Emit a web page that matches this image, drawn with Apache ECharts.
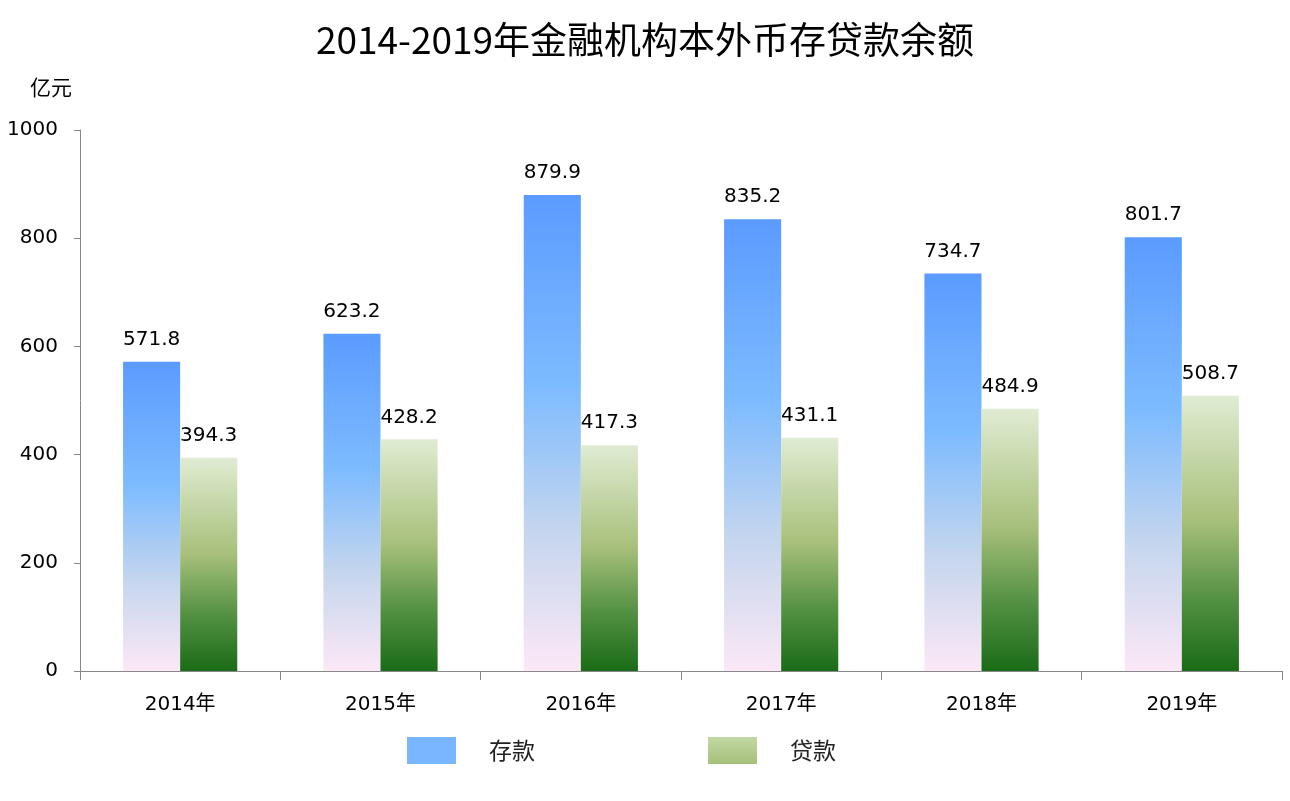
<!DOCTYPE html>
<html><head><meta charset="utf-8">
<script src="https://cdn.jsdelivr.net/npm/echarts@6/dist/echarts.min.js"></script>
<style>html,body{margin:0;padding:0;background:#fff}#c{width:1290px;height:801px}</style>
</head><body><div id="c"></div>
<script>
var categories = ['2014年','2015年','2016年','2017年','2018年','2019年'];
var deposits = [571.8, 623.2, 879.9, 835.2, 734.7, 801.7];
var loans = [394.3, 428.2, 417.3, 431.1, 484.9, 508.7];
var seriesNames = ['存款','贷款'];

var chart = echarts.init(document.getElementById('c'));
var font = '"DejaVu Sans", "Noto Sans CJK SC", sans-serif';
var depGrad = new echarts.graphic.LinearGradient(0,0,0,1,[
  {offset:0,color:'#5B9BFF'},{offset:0.4,color:'#7DBBFF'},{offset:0.7,color:'#C3D5EE'},{offset:1,color:'#FCE8F6'}]);
var loanGrad = new echarts.graphic.LinearGradient(0,0,0,1,[
  {offset:0,color:'#E0ECD3'},{offset:0.45,color:'#A8C07B'},{offset:0.75,color:'#508F40'},{offset:1,color:'#1A6B17'}]);
chart.setOption({
  animation:false,
  title:{text:'2014-2019年金融机构本外币存贷款余额',left:'center',top:16,
    textStyle:{fontSize:37,fontWeight:'normal',color:'#000',fontFamily:'"Noto Sans CJK SC", sans-serif'}},
  legend:{data:[{name:seriesNames[0],itemStyle:{color:'#79B6FF'}},{name:seriesNames[1],itemStyle:{color:new echarts.graphic.LinearGradient(0,0,0,1,[{offset:0,color:'#C3D7A4'},{offset:1,color:'#A5C07A'}])}}],
    left:402, top:732, itemWidth:49, itemHeight:27, itemGap:173, icon:'rect',
    textStyle:{fontSize:23,color:'#222',padding:[0,0,0,28],fontFamily:'"Noto Sans CJK SC", sans-serif'}},
  grid:{left:80,right:8,top:130,bottom:130},
  xAxis:{type:'category',data:categories,
    axisLine:{lineStyle:{color:'#888'}},
    axisTick:{show:true,length:9,lineStyle:{color:'#888'}},
    axisLabel:{fontSize:20,color:'#000',margin:24,fontFamily:font}},
  yAxis:{type:'value',min:0,max:1000,interval:200,name:'亿元',
    nameLocation:'end',nameGap:32,
    nameTextStyle:{fontSize:21,color:'#000',align:'right',padding:[0,8,0,0],fontFamily:'"Noto Sans CJK SC", sans-serif'},
    axisLine:{show:true,lineStyle:{color:'#888'}},
    axisTick:{show:true,length:6,lineStyle:{color:'#888'}},
    splitLine:{show:false},
    axisLabel:{fontSize:20,color:'#000',margin:22,fontFamily:font,formatter:function(v){return String(v);}}},
  series:[
    {name:seriesNames[0],type:'bar',data:deposits,barGap:'0%',barCategoryGap:'43%',
     itemStyle:{color:depGrad},
     label:{show:true,position:'top',distance:12,fontSize:20,color:'#000',fontFamily:font}},
    {name:seriesNames[1],type:'bar',data:loans,
     itemStyle:{color:loanGrad},
     label:{show:true,position:'top',distance:12,fontSize:20,color:'#000',fontFamily:font}}
  ]
});
</script></body></html>
